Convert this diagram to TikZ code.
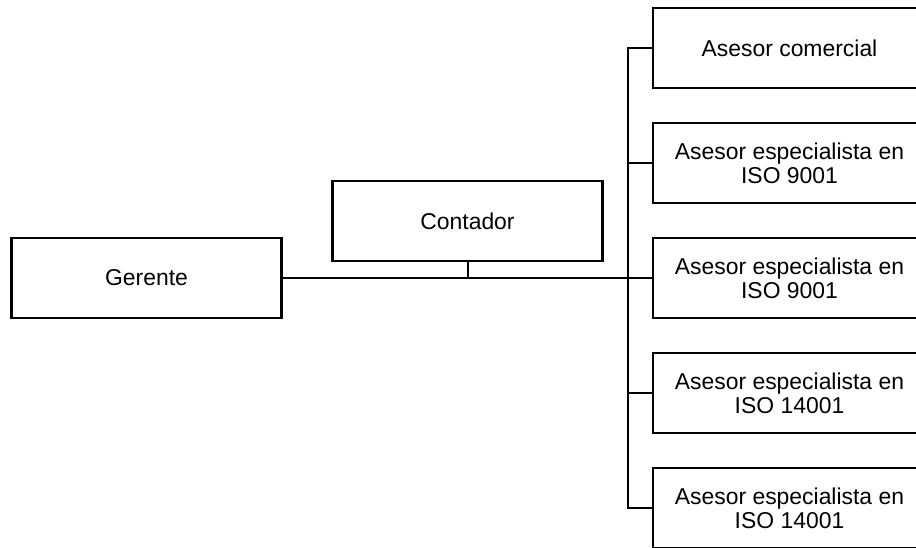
\documentclass[tikz,border=0pt]{standalone}
\usepackage{fontspec}
\setmainfont{Liberation Sans}

\tikzset{
	puesto/.style={draw=black, line width=2.8bp, fill=white, minimum width=270bp, minimum height=80bp, inner sep=0pt, align=center, font=\fontsize{23}{24}\selectfont},
	enlace/.style={draw=black, line width=2bp}
}

\begin{document}
\begin{tikzpicture}[x=1bp, y=-1bp]
	\clip (0,0) rectangle (916,548);
	\fill[white] (0,0) rectangle (916,548);

	\node [puesto] (gerente) at (146.5, 278) {Gerente};
	\node [puesto] (contador) at (467.5, 221) {Contador};

	\node [puesto, minimum width=273bp] (asesor1) at (789.5, 48) {Asesor comercial};
	\node [puesto, minimum width=273bp] (asesor2) at (789.5, 163) {Asesor especialista en\\ISO 9001};
	\node [puesto, minimum width=273bp] (asesor3) at (789.5, 278) {Asesor especialista en\\ISO 9001};
	\node [puesto, minimum width=273bp] (asesor4) at (789.5, 393) {Asesor especialista en\\ISO 14001};
	\node [puesto, minimum width=273bp] (asesor5) at (789.5, 508) {Asesor especialista en\\ISO 14001};

	\coordinate (bus) at (628, 278);

	\draw [enlace] (gerente.east) -- (asesor3.west);
	\draw [enlace] (contador.south) -- (contador.south |- bus);
	\draw [enlace] (asesor1.west) -| (bus |- asesor1.west) -- (bus |- asesor5.west) -- (asesor5.west);
	\draw [enlace] (bus |- asesor2.west) -- (asesor2.west);
	\draw [enlace] (bus |- asesor4.west) -- (asesor4.west);
\end{tikzpicture}
\end{document}
